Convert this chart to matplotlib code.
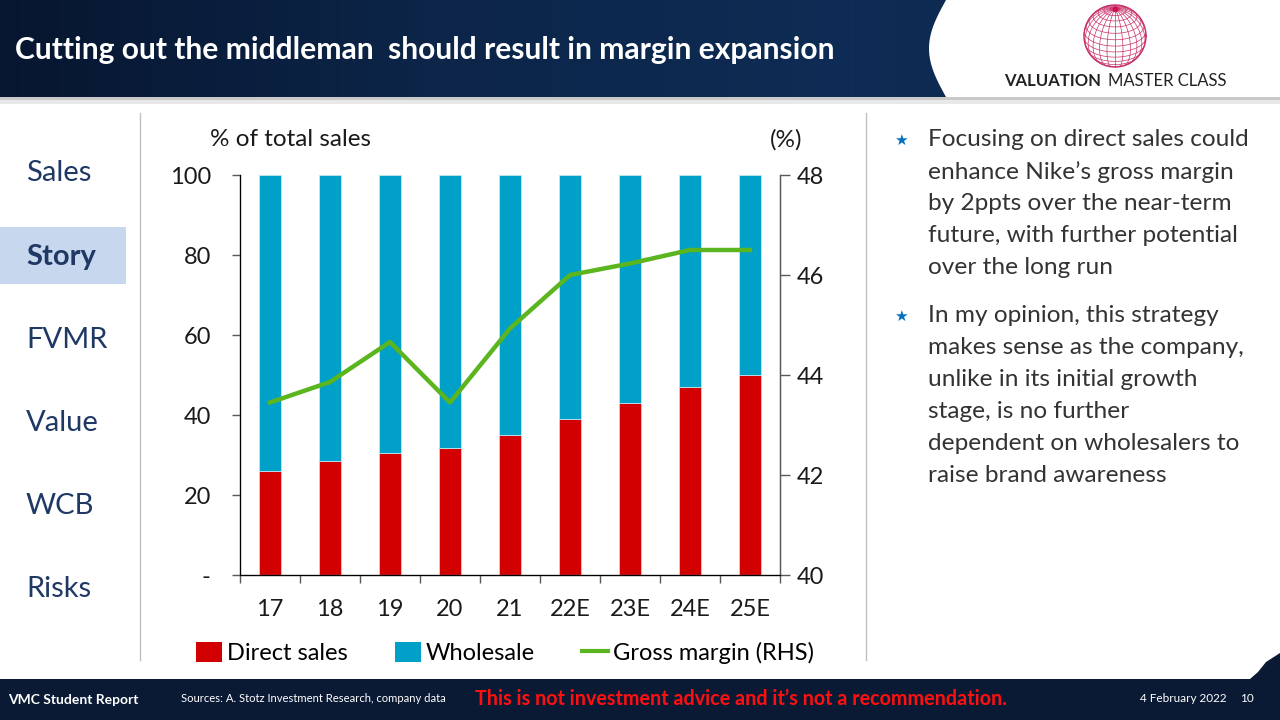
import numpy as np
import matplotlib
matplotlib.use("Agg")
import matplotlib.pyplot as plt
from matplotlib.patches import Rectangle, Polygon, Patch
from matplotlib.lines import Line2D
from matplotlib.colors import LinearSegmentedColormap

plt.rcParams['font.family'] = ['Lato', 'DejaVu Sans']

# ---------------- data ----------------
years = ["17", "18", "19", "20", "21", "22E", "23E", "24E", "25E"]
direct_sales = [26.0, 28.5, 30.5, 31.7, 35.0, 39.0, 43.0, 47.0, 50.0]
wholesale = [100 - v for v in direct_sales]
gross_margin = [43.45, 43.86, 44.66, 43.45, 44.93, 46.0, 46.23, 46.5, 46.5]
left_ticks = [0, 20, 40, 60, 80, 100]
left_ticklabels = ["-", "20", "40", "60", "80", "100"]
right_ticks = [40, 42, 44, 46, 48]

nav_items = ["Sales", "Story", "FVMR", "Value", "WCB", "Risks"]
bullet1 = ["Focusing on direct sales could", "enhance Nike\u2019s gross margin",
           "by 2ppts over the near-term", "future, with further potential",
           "over the long run"]
bullet2 = ["In my opinion, this strategy", "makes sense as the company,",
           "unlike in its initial growth", "stage, is no further",
           "dependent on wholesalers to", "raise brand awareness"]

RED = "#D20000"
BLUE = "#00A0C8"
GREEN = "#5BB51F"
NAVY_TXT = "#1F3864"

fig = plt.figure(figsize=(12.8, 7.2), dpi=100)
fig.patch.set_facecolor("white")

# ---------------- background / decorations (pixel coords) ----------------
bg = fig.add_axes([0, 0, 1, 1], zorder=0)
bg.set_xlim(0, 1280)
bg.set_ylim(720, 0)
bg.axis("off")

hdr_cmap = LinearSegmentedColormap.from_list("hdr", ["#071630", "#0C2548", "#0E2C55", "#0B2246"])
grad = np.linspace(0, 1, 256).reshape(1, -1)
bg.imshow(grad, cmap=hdr_cmap, extent=[0, 1280, 97, 0], aspect="auto", zorder=1)
# white logo area with curved left edge
yy = np.linspace(0, 97, 40)
xx = 946 - 17 * np.sin(np.pi * yy / 97)
logo_poly = np.column_stack([np.r_[xx, 1280, 1280], np.r_[yy, 97, 0]])
bg.add_patch(Polygon(logo_poly, closed=True, facecolor="white", edgecolor="none", zorder=2))
# gray band under header
bg.add_patch(Rectangle((0, 97), 1280, 3, facecolor="#C9C9C9", edgecolor="none", zorder=2))
bg.add_patch(Rectangle((0, 100), 1280, 4, facecolor="#E8E8E8", edgecolor="none", zorder=2))

# footer
foot_poly = [(0, 679), (1250, 679), (1258, 672), (1266, 662), (1280, 653), (1280, 720), (0, 720)]
bg.add_patch(Polygon(foot_poly, closed=True, facecolor="#0A1A34", edgecolor="none", zorder=2))

# globe
cx, cy, r = 1115, 36, 31
tilt = np.deg2rad(28)
def proj(lat, lon):
    X = np.cos(lat) * np.sin(lon)
    Y = np.sin(lat)
    Z = np.cos(lat) * np.cos(lon)
    Y2 = Y * np.cos(tilt) - Z * np.sin(tilt)
    Z2 = Y * np.sin(tilt) + Z * np.cos(tilt)
    return cx + r * X, cy - r * Y2, Z2
gcol = "#C8326A"
lon = np.linspace(-np.pi, np.pi, 300)
for latd in range(-75, 90, 12):
    px, py, pz = proj(np.deg2rad(latd), lon)
    m = np.where(pz >= 0, 1.0, np.nan)
    bg.plot(px * m, py * m, color=gcol, lw=0.5, zorder=3)
lat = np.linspace(-np.pi / 2, np.pi / 2, 200)
for lond in range(0, 360, 15):
    px, py, pz = proj(lat, np.deg2rad(lond))
    m = np.where(pz >= 0, 1.0, np.nan)
    bg.plot(px * m, py * m, color=gcol, lw=0.5, zorder=3)
t = np.linspace(0, 2 * np.pi, 200)
bg.plot(cx + r * np.cos(t), cy + r * np.sin(t), color=gcol, lw=1.0, zorder=3)
ppx, ppy, _ = proj(np.pi / 2, 0.0)
bg.plot([ppx], [ppy], "o", color="#D0104A", ms=3, zorder=4)

bg.text(1004, 81, "VALUATION", fontsize=12, fontweight="bold", color="#222222",
        ha="left", va="center", zorder=4)
bg.text(1227, 81, "MASTER CLASS", fontsize=12, color="#222222",
        ha="right", va="center", zorder=4)

# title
bg.text(15, 50, "Cutting out the middleman  should result in margin expansion",
        fontsize=21.6, fontweight="bold", color="white", ha="left", va="center", zorder=4)

# nav
bg.add_patch(Rectangle((0, 227), 126, 57, facecolor="#C6D7EE", edgecolor="none", zorder=2))
nav_y = [173, 257, 340, 423, 506, 589]
for name, y in zip(nav_items, nav_y):
    bg.text(26, y, name, fontsize=21, color=NAVY_TXT, ha="left", va="center",
            fontweight="bold" if name == "Story" else "normal", zorder=4)

# dividers
bg.plot([140, 140], [113, 660], color="#BFBFBF", lw=1, zorder=3)
bg.plot([866, 866], [113, 660], color="#BFBFBF", lw=1, zorder=3)

# bullets
txt_col = "#333333"
for i, line in enumerate(bullet1):
    bg.text(928, 140 + 32 * i, line, fontsize=17.6, color=txt_col, ha="left", va="center", zorder=4)
for i, line in enumerate(bullet2):
    bg.text(928, 316 + 32 * i, line, fontsize=17.6, color=txt_col, ha="left", va="center", zorder=4)
for y in (140, 316):
    bg.text(901, y, "\u2605", fontsize=11, color="#0070C0", ha="center", va="center",
            family=["DejaVu Sans"], zorder=4)

# footer text
bg.text(8, 700, "VMC Student Report", fontsize=10, fontweight="bold", color="white",
        ha="left", va="center", zorder=4)
bg.text(181, 699, "Sources: A. Stotz Investment Research, company data", fontsize=8.1,
        color="white", ha="left", va="center", zorder=4)
bg.text(475, 699, "This is not investment advice and it\u2019s not a recommendation.", fontsize=14.2,
        fontweight="bold", color="#FF1010", ha="left", va="center", zorder=4)
bg.text(1140, 699, "4 February 2022", fontsize=8.5, color="white", ha="left", va="center", zorder=4)
bg.text(1240, 699, "10", fontsize=8.5, color="white", ha="left", va="center", zorder=4)

# ---------------- chart ----------------
ax = fig.add_axes([240 / 1280, 145 / 720, 540 / 1280, 400 / 720], zorder=5)
ax.patch.set_alpha(0)
x = np.arange(len(years))
ax.bar(x, direct_sales, width=0.37, color=RED, edgecolor="#F2C4C4", linewidth=0.6, zorder=2)
ax.bar(x, wholesale, bottom=direct_sales, width=0.37, color=BLUE, edgecolor="#BFE6F0",
       linewidth=0.6, zorder=2)
ax.set_xlim(-0.5, len(years) - 0.5)
ax.set_ylim(0, 100)
ax.set_yticks(left_ticks)
ax.set_yticklabels(left_ticklabels)
ax.set_xticks(x)
ax.set_xticklabels(years)
ax.set_xticks(np.arange(-0.5, len(years), 1), minor=True)
ax.tick_params(axis="x", which="major", length=0, pad=17, labelsize=17, labelcolor="#1A1A1A")
ax.tick_params(axis="x", which="minor", length=6, width=1, direction="out", color="#595959")
ax.tick_params(axis="y", length=6, width=1, direction="out", pad=15, labelsize=17,
               labelcolor="#1A1A1A", color="#595959")
for s in ("top",):
    ax.spines[s].set_visible(False)
for s in ("left", "bottom", "right"):
    ax.spines[s].set_color("#595959")
    ax.spines[s].set_linewidth(1)

ax2 = ax.twinx()
ax2.plot(x, gross_margin, color=GREEN, lw=3.2, zorder=3)
ax2.set_ylim(40, 48)
ax2.set_yticks(right_ticks)
ax2.tick_params(axis="y", length=7, width=1, direction="out", pad=5, labelsize=17,
                labelcolor="#1A1A1A", color="#595959")
ax2.spines["top"].set_visible(False)
ax2.spines["right"].set_color("#595959")

fig.text(210 / 1280, 1 - 140 / 720, "% of total sales", fontsize=17.5, color="#1A1A1A",
         ha="left", va="center")
fig.text(802 / 1280, 1 - 140 / 720, "(%)", fontsize=17.5, color="#1A1A1A",
         ha="right", va="center")

handles = [Patch(facecolor=RED, edgecolor="none"), Patch(facecolor=BLUE, edgecolor="none"),
           Line2D([0], [0], color=GREEN, lw=3)]
fig.legend(handles, ["Direct sales", "Wholesale", "Gross margin (RHS)"], loc="center",
           bbox_to_anchor=(505 / 1280, 1 - 653 / 720), ncol=3, frameon=False, fontsize=17,
           handlelength=1.1, handleheight=0.9, handletextpad=0.2, columnspacing=2.0)

fig.savefig("out.png", dpi=100, facecolor="white")
